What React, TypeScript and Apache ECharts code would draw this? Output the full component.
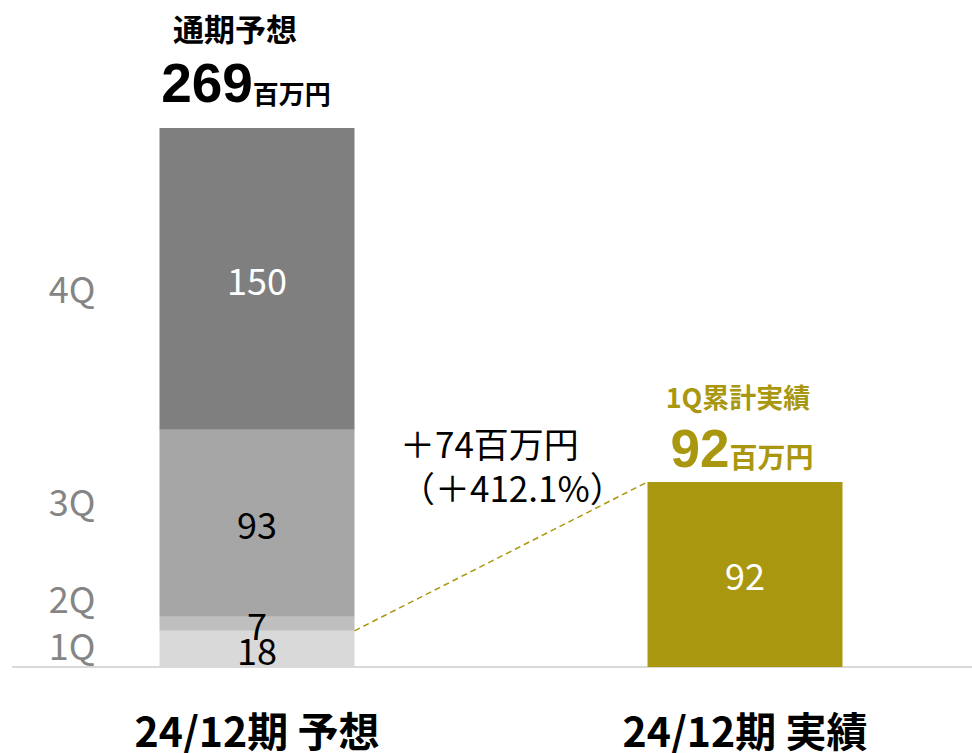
import React, { useEffect, useRef } from "react";
import * as echarts from "echarts";

const categories = ["24/12期 予想", "24/12期 実績"];
const q1 = [18, null];
const q2 = [7, null];
const q3 = [93, null];
const q4 = [150, null];
const actual = [null, 92];
const quarterLabels = ["4Q", "3Q", "2Q", "1Q"];
const forecastTotal = "269";
const actualTotal = "92";
const diffText = "＋74百万円";
const diffPctText = "（＋412.1%）";

const GOLD = "#AA9710";
const JP = "'Noto Sans CJK JP', sans-serif";
const NUM = "'Liberation Sans', 'Noto Sans CJK JP', sans-serif";
const BAR_W = 195;

export default function App() {
  const ref = useRef<HTMLDivElement>(null);
  useEffect(() => {
    if (!ref.current) return;
    const chart = echarts.init(ref.current, null, { renderer: "svg" });
    const mk = (name: string, data: any[], color: string, labelColor: string) => ({
      name,
      type: "bar",
      stack: "total",
      barWidth: BAR_W,
      data,
      itemStyle: { color },
      label: {
        show: true,
        position: "inside",
        fontSize: 36,
        fontFamily: JP,
        color: labelColor,
        formatter: (p: any) => (p.value == null ? "" : String(p.value)),
      },
    });
    chart.setOption({
      animation: false,
      grid: { left: 13, width: 976, top: 128, height: 539, outerBoundsMode: "none", containLabel: false },
      xAxis: {
        type: "category",
        data: categories,
        axisLine: { lineStyle: { color: "#D9D9D9", width: 2 } },
        axisTick: { show: false },
        axisLabel: {
          fontSize: 41,
          lineHeight: 40,
          fontWeight: "bold",
          fontFamily: JP,
          color: "#000",
          margin: 42,
        },
      },
      yAxis: { type: "value", min: 0, max: 268, show: false, splitLine: { show: false } },
      series: [
        mk("1Q", q1, "#D9D9D9", "#000"),
        mk("2Q", q2, "#BFBFBF", "#000"),
        mk("3Q", q3, "#A6A6A6", "#000"),
        mk("4Q", q4, "#7F7F7F", "#fff"),
        mk("実績", actual, GOLD, "#fff"),
      ],
    });
    const p1 = chart.convertToPixel({ xAxisIndex: 0, yAxisIndex: 0 }, [categories[0], q1[0] as number]) as number[];
    const p2 = chart.convertToPixel({ xAxisIndex: 0, yAxisIndex: 0 }, [categories[1], actual[1] as number]) as number[];
    const qY = [287, 500, 597, 644];
    chart.setOption({
      graphic: [
        {
          type: "line",
          shape: { x1: p1[0] + BAR_W / 2, y1: p1[1], x2: p2[0] - BAR_W / 2, y2: p2[1] },
          style: { stroke: GOLD, lineWidth: 1.5, lineDash: [6, 4] },
          z: 10,
        },
        ...quarterLabels.map((t, i) => ({
          type: "text",
          x: 72,
          y: qY[i],
          style: { text: t, fill: "#858585", fontSize: 36, fontFamily: JP, align: "center", verticalAlign: "middle" },
        })),
        {
          type: "text",
          x: 235,
          y: 27,
          style: { text: "通期予想", fill: "#000", fontSize: 31, fontWeight: "bold", fontFamily: JP, align: "center", verticalAlign: "middle" },
        },
        {
          type: "text",
          x: 246,
          y: 81,
          style: {
            text: `{a|${forecastTotal}}{b|百万円}`,
            align: "center",
            verticalAlign: "middle",
            rich: {
              a: { fontSize: 55, fontWeight: "bold", fontFamily: NUM, fill: "#000", color: "#000", verticalAlign: "bottom", lineHeight: 58 },
              b: { fontSize: 26, fontWeight: "bold", fontFamily: JP, fill: "#000", color: "#000", verticalAlign: "bottom", lineHeight: 58, padding: [0, 0, 5, 0] },
            },
          },
        },
        {
          type: "text",
          x: 738,
          y: 396,
          style: { text: "1Q累計実績", fill: GOLD, fontSize: 27, fontWeight: "bold", fontFamily: JP, align: "center", verticalAlign: "middle" },
        },
        {
          type: "text",
          x: 742,
          y: 446,
          style: {
            text: `{a|${actualTotal}}{b|百万円}`,
            align: "center",
            verticalAlign: "middle",
            rich: {
              a: { fontSize: 53, fontWeight: "bold", fontFamily: NUM, fill: GOLD, color: GOLD, verticalAlign: "bottom", lineHeight: 58 },
              b: { fontSize: 28, fontWeight: "bold", fontFamily: JP, fill: GOLD, color: GOLD, verticalAlign: "bottom", lineHeight: 58, padding: [0, 0, 5, 0] },
            },
          },
        },
        {
          type: "text",
          x: 400,
          y: 442,
          style: { text: diffText, fill: "#000", fontSize: 35, lineHeight: 36, fontFamily: JP, align: "left", verticalAlign: "middle" },
        },
        {
          type: "text",
          x: 400,
          y: 486,
          style: { text: diffPctText, fill: "#000", fontSize: 35, lineHeight: 36, fontFamily: JP, align: "left", verticalAlign: "middle" },
        },
      ],
    });
    return () => chart.dispose();
  }, []);
  return <div ref={ref} style={{ width: 972, height: 753, position: "absolute", left: 0, top: 0 }} />;
}
